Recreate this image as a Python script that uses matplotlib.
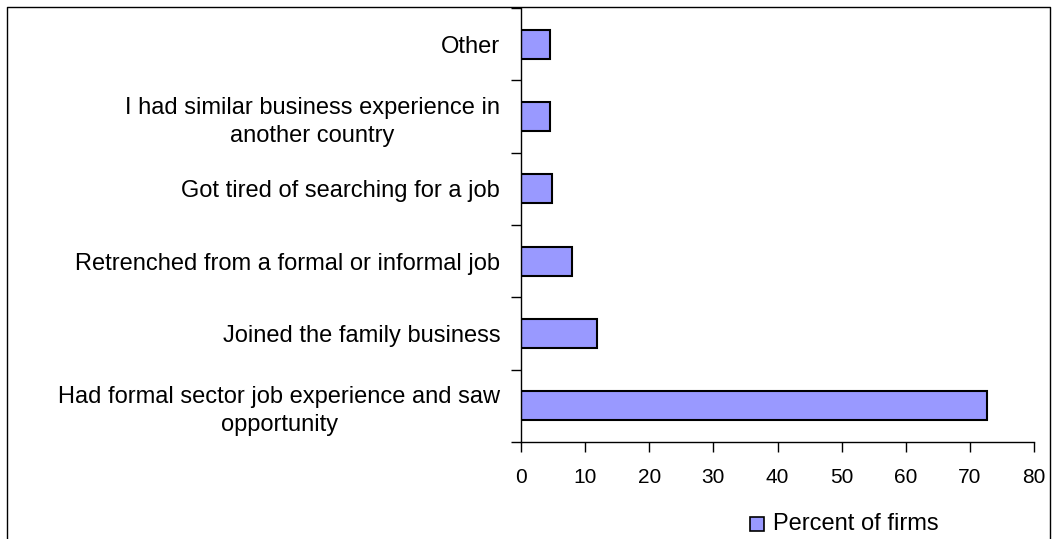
import matplotlib
matplotlib.use("Agg")
import matplotlib.pyplot as plt
from matplotlib.patches import Rectangle
from matplotlib.lines import Line2D

categories = [
    "Had formal sector job experience and saw\nopportunity",
    "Joined the family business",
    "Retrenched from a formal or informal job",
    "Got tired of searching for a job",
    "I had similar business experience in\nanother country",
    "Other",
]
percent_of_firms = [72.7, 11.9, 7.9, 4.8, 4.5, 4.5]
x_ticks = [0, 10, 20, 30, 40, 50, 60, 70, 80]
series_name = "Percent of firms"

plt.rcParams["font.family"] = ["Liberation Sans", "DejaVu Sans"]

W, H, DPI = 1052, 539, 100
fig = plt.figure(figsize=(W / DPI, H / DPI), dpi=DPI)

# plot area in pixel coordinates
left, right, top, bottom = 521, 1034, 8, 442
ax = fig.add_axes([left / W, 1 - bottom / H, (right - left) / W, (bottom - top) / H])

pos = list(range(len(categories)))
ax.barh(pos, percent_of_firms, height=0.4, color="#9999FF",
        edgecolor="black", linewidth=1.5, label=series_name)

ax.set_xlim(0, 80)
ax.set_ylim(-0.5, len(categories) - 0.5)
ax.set_xticks(x_ticks)
ax.set_xticklabels([str(t) for t in x_ticks], fontsize=15)

# category boundaries carry the ticks, labels sit between them
ax.set_yticks([p - 0.5 for p in pos] + [len(categories) - 0.5])
ax.set_yticklabels([])
ax.set_yticks(pos, minor=True)
ax.set_yticklabels(categories, minor=True, fontsize=17, multialignment="center",
                   linespacing=1.35)
ax.tick_params(axis="y", which="minor", length=0, pad=15)
ax.tick_params(axis="y", which="major", length=7, width=1, direction="out")
ax.tick_params(axis="x", length=7, width=1, direction="out", pad=12)

for s in ["top", "right"]:
    ax.spines[s].set_visible(False)
for s in ["left", "bottom"]:
    ax.spines[s].set_color("black")
    ax.spines[s].set_linewidth(1.0)

# outer chart frame (open at the bottom)
frame = Line2D([7 / W, 7 / W, 1050 / W, 1050 / W],
               [0, 1 - 7 / H, 1 - 7 / H, 0],
               transform=fig.transFigure, color="black", linewidth=1.0)
fig.add_artist(frame)

# legend
fig.add_artist(Rectangle((750 / W, 1 - 531 / H), 14 / W, 14 / H,
                         transform=fig.transFigure, facecolor="#9999FF",
                         edgecolor="black", linewidth=1.2))
fig.text(773 / W, 1 - 524 / H, series_name, fontsize=17, va="center", ha="left")

fig.savefig("out.png", dpi=DPI)
